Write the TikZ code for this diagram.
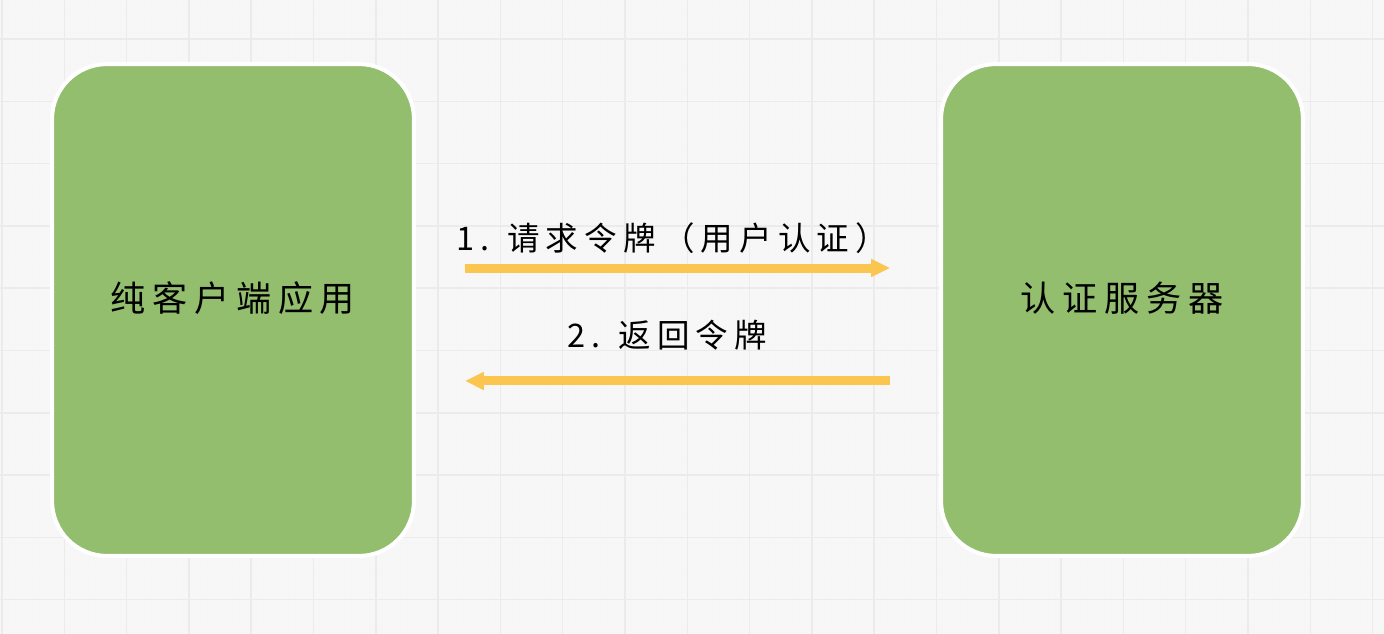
\documentclass[tikz,border=0pt]{standalone}
\usepackage{fontspec}
\usepackage{tikz}
\usetikzlibrary{arrows.meta}
\newfontfamily\cjk[LetterSpace=19]{Noto Sans CJK SC}
\definecolor{appgreen}{RGB}{146,190,110}
\definecolor{flowyellow}{RGB}{250,198,80}
\definecolor{paper}{RGB}{247,247,247}
\tikzstyle{board}=[x=0.02cm, y=-0.02cm]
\tikzstyle{majorline}=[draw=black!8, line width=0.85pt]
\tikzstyle{minorline}=[draw=black!3.5, line width=0.3pt]
\tikzstyle{appbox}=[rectangle, rounded corners=1.1cm, draw=white, line width=2.3pt, fill=appgreen, minimum width=7.24cm, minimum height=9.84cm]
\tikzstyle{boxtext}=[inner sep=0pt, font=\cjk\fontsize{20pt}{24pt}\selectfont]
\tikzstyle{msg}=[inner sep=0pt, font=\cjk\fontsize{18.5pt}{22pt}\selectfont]
\tikzstyle{flow}=[draw=flowyellow, line width=0.18cm, -{Triangle[length=0.38cm, width=0.34cm]}, shorten <=0.98cm, shorten >=0.98cm]

\begin{document}
\begin{tikzpicture}[board]
	%The paper
	\fill[paper] (0,0) rectangle (1384,634);
	\useasboundingbox (0,0) rectangle (1384,634);
	\foreach \gx in {0,...,230}
		\draw[minorline] ({2+6.23*\gx},0) -- ({2+6.23*\gx},634);
	\foreach \gy in {-7,...,100}
		\draw[minorline] (0,{39+6.23*\gy}) -- (1384,{39+6.23*\gy});
	\foreach \gx in {0,...,22}
		\draw[majorline] ({2+62.3*\gx},0) -- ({2+62.3*\gx},634);
	\foreach \gy in {-1,...,9}
		\draw[majorline] (0,{39+62.3*\gy}) -- (1384,{39+62.3*\gy});
	
	%The two parties
	\node[appbox] (client) at (233,310) {};
	\node[appbox] (server) at (1122,310) {};
	\node[boxtext] (client-text) at ([yshift=0.24cm]client.center) {纯客户端应用};
	\node[boxtext] (server-text) at ([yshift=0.24cm]server.center) {认证服务器};
	
	%The messages
	\draw[flow] ([yshift=0.84cm]client.east) -- ([yshift=0.84cm]server.west);
	\draw[flow] ([yshift=-1.42cm]server.west) -- ([yshift=-1.42cm]client.east);
	\node[msg] (request) at (672,238) {1. 请求令牌（用户认证）};
	\node[msg] (reply) at (667,335) {2. 返回令牌};
\end{tikzpicture}
\end{document}
